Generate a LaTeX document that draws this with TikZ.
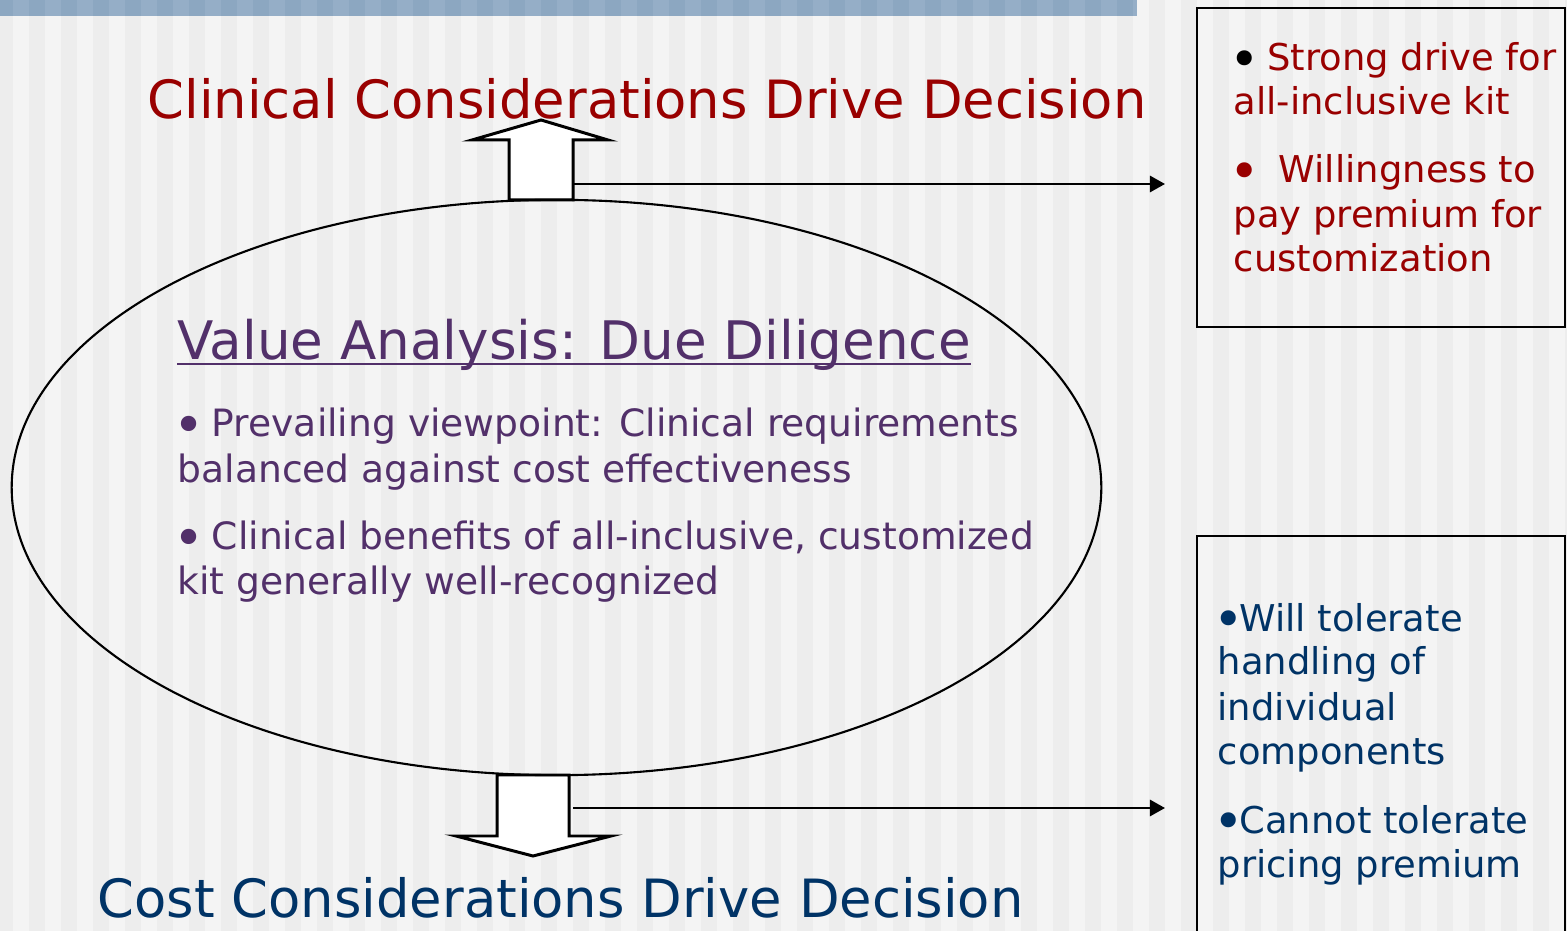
\documentclass[tikz,border=0pt]{standalone}
\usepackage{fontspec}
\setmainfont{DejaVu Sans}
\usetikzlibrary{arrows.meta,shapes.geometric,calc}
\definecolor{stripeA}{HTML}{F4F4F4}
\definecolor{stripeB}{HTML}{EDEDED}
\definecolor{barA}{HTML}{95AEC7}
\definecolor{barB}{HTML}{8CA7C1}
\definecolor{clinred}{HTML}{990000}
\definecolor{costblue}{HTML}{003366}
\definecolor{vapurple}{HTML}{52306A}
% a slightly larger list bullet, kept at the width of the normal one
\newcommand{\listdot}{\makebox[0.59em][c]{\raisebox{-0.18em}{\scalebox{1.4}{•}}}}
\begin{document}
\begin{tikzpicture}[x=0.01cm,y=-0.01cm,
  txt/.style={inner sep=0pt, anchor=base west},
  headline/.style={txt, font=\fontsize{15.0}{18}\selectfont},
  vatitle/.style={txt, text=vapurple, font=\fontsize{15.1}{18}\selectfont},
  vabody/.style={txt, text=vapurple, font=\fontsize{10.7}{13}\selectfont},
  sidetext/.style={txt, font=\fontsize{10.5}{13}\selectfont},
  framebox/.style={draw=black, line width=0.75pt},
  blockarrow/.style={draw=black, fill=white, line width=0.85pt, line join=miter},
  conn/.style={draw=black, line width=0.75pt, -{Triangle[length=4.3pt,width=4.6pt]}}]
\useasboundingbox (0,0) rectangle (1567,931);
% striped backdrop
\fill[stripeA] (0,0) rectangle (1567,931);
\foreach \i in {0,...,49}
  \fill[stripeB] ({32*\i-3},0) rectangle ({32*\i+13},931);
% banner along the top edge
\fill[barA] (0,0) rectangle (1137,16);
\foreach \i in {0,...,35}
  \fill[barB] ({max(32*\i-3,0)},0) rectangle ({min(32*\i+13,1137)},16);
% side boxes
\draw[framebox] (1197,8) rectangle (1565,327);
\draw[framebox] (1197,536) rectangle (1565,940);
% block arrows
\draw[blockarrow] (509,200) -- (509,140) -- (472,140) -- (541,120) -- (608,140)
  -- (573,140) -- (573,200) -- cycle;
\draw[blockarrow] (497,775) -- (497,836) -- (456,836) -- (533,856) -- (611,836)
  -- (569,836) -- (569,775) -- cycle;
% central ellipse
\node[draw=black, line width=0.6pt, ellipse, inner sep=0pt,
  minimum width=10.89cm, minimum height=5.75cm] (ell) at (556.5,487.5) {};
% connectors
\coordinate (upout) at (573,184);
\coordinate (upend) at (1165,184);
\coordinate (dnout) at (573,808);
\coordinate (dnend) at (1165,808);
\draw[conn] (upout) -- (upend);
\draw[conn] (dnout) -- (dnend);
% headlines
\node[headline, text=clinred] (clin) at (147,119) {Clinical Considerations Drive Decision};
\node[headline, text=costblue] (cost) at (97,917) {Cost Considerations Drive Decision};
% ellipse contents
\node[vatitle] (va) at (177,360) {Value Analysis: Due Diligence};
\draw[vapurple, line width=0.85pt] ($(va.base west)+(0,4)$) -- ($(va.base east)+(0,4)$);
\node[vabody] (pv1) at (177,437) {\listdot{} Prevailing viewpoint: Clinical requirements};
\node[vabody] (pv2) at (177,483) {balanced against cost effectiveness};
\node[vabody] (cb1) at (177,550) {\listdot{} Clinical benefits of all-inclusive, customized};
\node[vabody] (cb2) at (177,595) {kit generally well-recognized};
% upper box
\node[sidetext, text=clinred] (r1) at (1233,71) {\textcolor{black}{\listdot} Strong drive for};
\node[sidetext, text=clinred] (r2) at (1233,115) {all-inclusive kit};
\node[sidetext, text=clinred] (r3) at (1233,183) {\listdot\ \ Willingness to};
\node[sidetext, text=clinred] (r4) at (1233,228) {pay premium for};
\node[sidetext, text=clinred] (r5) at (1233,272) {customization};
% lower box
\node[sidetext, text=costblue] (b1) at (1217,631) {\listdot{}Will tolerate};
\node[sidetext, text=costblue] (b2) at (1217,675) {handling of};
\node[sidetext, text=costblue] (b3) at (1217,720) {individual};
\node[sidetext, text=costblue] (b4) at (1217,764) {components};
\node[sidetext, text=costblue] (b5) at (1217,833) {\listdot{}Cannot tolerate};
\node[sidetext, text=costblue] (b6) at (1217,877) {pricing premium};
\end{tikzpicture}
\end{document}
